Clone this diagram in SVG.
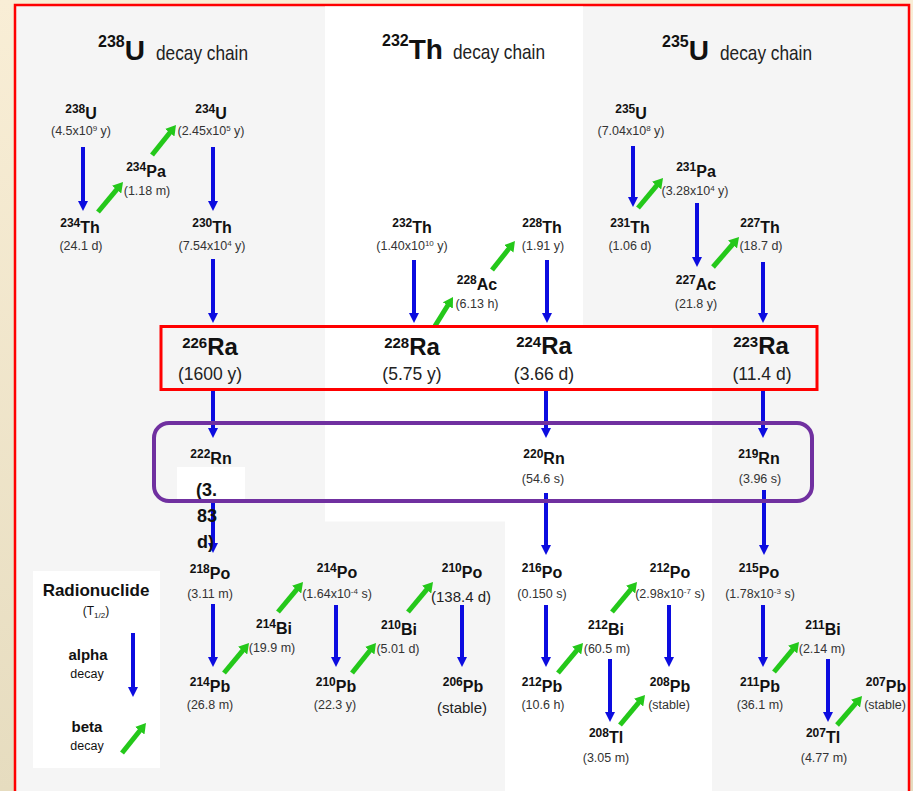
<svg xmlns="http://www.w3.org/2000/svg" width="913" height="791" viewBox="0 0 913 791">
  <defs>
    <linearGradient id="paper" x1="0" y1="0" x2="0" y2="1">
      <stop offset="0" stop-color="#f9eed6"/>
      <stop offset="1" stop-color="#e6dcbf"/>
    </linearGradient>
    <marker id="headAlpha" viewBox="0 0 10 10" markerUnits="userSpaceOnUse" markerWidth="10" markerHeight="10" refX="2" refY="5" orient="auto">
      <path d="M0,0 L10,5 L0,10 z" fill="#0c0ce0"/>
    </marker>
    <marker id="headBeta" viewBox="0 0 10 12" markerUnits="userSpaceOnUse" markerWidth="10" markerHeight="12" refX="2" refY="6" orient="auto">
      <path d="M0,0 L10,6 L0,12 z" fill="#24c81a"/>
    </marker>
  </defs>
  <style>
    text { font-family: "Liberation Sans", Arial, sans-serif; fill: #111; }
    .sym { font-size: 16px; font-weight: bold; text-anchor: middle; }
    .sup { font-size: 12px; }
    .hl { font-size: 12.5px; fill: #333; text-anchor: middle; }
    .ex { font-size: 8px; }
    .ra { font-size: 24px; font-weight: bold; text-anchor: middle; }
    .rasup { font-size: 15px; }
    .rahl { font-size: 17.5px; fill: #222; text-anchor: middle; }
    .big { font-size: 15px; fill: #222; text-anchor: middle; }
    .ttl { font-size: 28px; font-weight: bold; }
    .ttlsup { font-size: 16px; }
    .ttlrest { font-size: 21px; fill: #222; }
    .alpha { stroke: #0c0ce0; stroke-width: 4; fill: none; marker-end: url(#headAlpha); }
    .beta { stroke: #24c81a; stroke-width: 5; fill: none; marker-end: url(#headBeta); }
    .leg { text-anchor: middle; }
  </style>

  <!-- page and panels -->
  <rect x="0" y="0" width="913" height="791" fill="url(#paper)"/>
  <rect x="15" y="5" width="894" height="800" fill="#f5f5f5" stroke="#ff0000" stroke-width="2.5"/>
  <rect x="325" y="6.5" width="258" height="515" fill="#ffffff"/>
  <rect x="505" y="327" width="207" height="470" fill="#ffffff"/>
  <rect x="33" y="571" width="127" height="197" fill="#ffffff"/>

  <!-- chain titles -->
  <g id="title-u238">
    <text x="98" y="60"><tspan class="ttl ttlsup" dy="-13">238</tspan><tspan class="ttl" dy="13">U</tspan></text>
    <text class="ttlrest" x="156" y="60" textLength="92" lengthAdjust="spacingAndGlyphs">decay chain</text>
  </g>
  <g id="title-th232">
    <text x="382" y="59"><tspan class="ttl ttlsup" dy="-13">232</tspan><tspan class="ttl" dy="13">Th</tspan></text>
    <text class="ttlrest" x="453" y="59" textLength="92" lengthAdjust="spacingAndGlyphs">decay chain</text>
  </g>
  <g id="title-u235">
    <text x="662" y="60"><tspan class="ttl ttlsup" dy="-13">235</tspan><tspan class="ttl" dy="13">U</tspan></text>
    <text class="ttlrest" x="720" y="60" textLength="92" lengthAdjust="spacingAndGlyphs">decay chain</text>
  </g>

  <!-- decay arrows -->
  <g id="connectors">
    <!-- alpha decays -->
    <line class="alpha" x1="83" y1="147" x2="83" y2="203"/>
    <line class="alpha" x1="213" y1="147" x2="213" y2="203"/>
    <line class="alpha" x1="213" y1="259" x2="213" y2="315"/>
    <line class="alpha" x1="414" y1="260" x2="414" y2="315"/>
    <line class="alpha" x1="547" y1="260" x2="547" y2="315"/>
    <line class="alpha" x1="633" y1="146" x2="633" y2="199"/>
    <line class="alpha" x1="697" y1="203" x2="697" y2="259"/>
    <line class="alpha" x1="763" y1="262" x2="763" y2="315"/>
    <line class="alpha" x1="213" y1="390" x2="213" y2="430"/>
    <line class="alpha" x1="546" y1="388" x2="546" y2="430"/>
    <line class="alpha" x1="763" y1="388" x2="763" y2="430"/>
    <line class="alpha" x1="213" y1="470" x2="213" y2="545"/>
    <line class="alpha" x1="546" y1="493" x2="546" y2="547"/>
    <line class="alpha" x1="764" y1="490" x2="764" y2="547"/>
    <line class="alpha" x1="213" y1="604" x2="213" y2="659"/>
    <line class="alpha" x1="336" y1="605" x2="336" y2="659"/>
    <line class="alpha" x1="462" y1="605" x2="462" y2="659"/>
    <line class="alpha" x1="546" y1="605" x2="546" y2="659"/>
    <line class="alpha" x1="610" y1="659" x2="610" y2="714"/>
    <line class="alpha" x1="669" y1="605" x2="669" y2="659"/>
    <line class="alpha" x1="763" y1="605" x2="763" y2="659"/>
    <line class="alpha" x1="828" y1="659" x2="828" y2="714"/>
    <!-- beta decays -->
    <line class="beta" x1="98" y1="212" x2="117.9" y2="188.1"/>
    <line class="beta" x1="152" y1="155" x2="171" y2="131.2"/>
    <line class="beta" x1="435" y1="326" x2="448.8" y2="303.8"/>
    <line class="beta" x1="492" y1="270" x2="510" y2="247.3"/>
    <line class="beta" x1="638" y1="208" x2="657.9" y2="184.1"/>
    <line class="beta" x1="713" y1="267" x2="733.8" y2="243"/>
    <line class="beta" x1="224" y1="673" x2="243.9" y2="649.1"/>
    <line class="beta" x1="278" y1="612" x2="297.9" y2="588.1"/>
    <line class="beta" x1="352" y1="673" x2="371" y2="649.2"/>
    <line class="beta" x1="408" y1="612" x2="427.9" y2="588.1"/>
    <line class="beta" x1="558" y1="673" x2="577.9" y2="649.1"/>
    <line class="beta" x1="612" y1="612" x2="631.9" y2="588.1"/>
    <line class="beta" x1="620" y1="725" x2="639.9" y2="701.1"/>
    <line class="beta" x1="774" y1="672" x2="793.9" y2="648.1"/>
    <line class="beta" x1="837" y1="725" x2="856.8" y2="702.1"/>
  </g>

  <!-- uranium-238 chain, upper part -->
  <g id="u238">
    <text class="sym" x="81" y="119"><tspan class="sup" dy="-6">238</tspan><tspan dy="6">U</tspan></text>
    <text class="hl" x="81" y="135">(4.5x10<tspan class="ex" dy="-4">9</tspan><tspan dy="4"> y)</tspan></text>
  </g>
  <g id="u234">
    <text class="sym" x="211" y="119"><tspan class="sup" dy="-6">234</tspan><tspan dy="6">U</tspan></text>
    <text class="hl" x="211" y="135">(2.45x10<tspan class="ex" dy="-4">5</tspan><tspan dy="4"> y)</tspan></text>
  </g>
  <g id="pa234">
    <text class="sym" x="146" y="177"><tspan class="sup" dy="-6">234</tspan><tspan dy="6">Pa</tspan></text>
    <text class="hl" x="147" y="195">(1.18 m)</text>
  </g>
  <g id="th234">
    <text class="sym" x="80" y="233"><tspan class="sup" dy="-6">234</tspan><tspan dy="6">Th</tspan></text>
    <text class="hl" x="81" y="250">(24.1 d)</text>
  </g>
  <g id="th230">
    <text class="sym" x="212" y="233"><tspan class="sup" dy="-6">230</tspan><tspan dy="6">Th</tspan></text>
    <text class="hl" x="212" y="250">(7.54x10<tspan class="ex" dy="-4">4</tspan><tspan dy="4"> y)</tspan></text>
  </g>

  <!-- thorium-232 chain, upper part -->
  <g id="th232">
    <text class="sym" x="412" y="233"><tspan class="sup" dy="-6">232</tspan><tspan dy="6">Th</tspan></text>
    <text class="hl" x="412" y="250">(1.40x10<tspan class="ex" dy="-4">10</tspan><tspan dy="4"> y)</tspan></text>
  </g>
  <g id="th228">
    <text class="sym" x="542" y="233"><tspan class="sup" dy="-6">228</tspan><tspan dy="6">Th</tspan></text>
    <text class="hl" x="543" y="250">(1.91 y)</text>
  </g>
  <g id="ac228">
    <text class="sym" x="477" y="290"><tspan class="sup" dy="-6">228</tspan><tspan dy="6">Ac</tspan></text>
    <text class="hl" x="477" y="308">(6.13 h)</text>
  </g>

  <!-- uranium-235 chain, upper part -->
  <g id="u235">
    <text class="sym" x="631" y="119"><tspan class="sup" dy="-6">235</tspan><tspan dy="6">U</tspan></text>
    <text class="hl" x="631" y="135">(7.04x10<tspan class="ex" dy="-4">8</tspan><tspan dy="4"> y)</tspan></text>
  </g>
  <g id="pa231">
    <text class="sym" x="696" y="177"><tspan class="sup" dy="-6">231</tspan><tspan dy="6">Pa</tspan></text>
    <text class="hl" x="695" y="195">(3.28x10<tspan class="ex" dy="-4">4</tspan><tspan dy="4"> y)</tspan></text>
  </g>
  <g id="th231">
    <text class="sym" x="630" y="233"><tspan class="sup" dy="-6">231</tspan><tspan dy="6">Th</tspan></text>
    <text class="hl" x="630" y="250">(1.06 d)</text>
  </g>
  <g id="th227">
    <text class="sym" x="760" y="233"><tspan class="sup" dy="-6">227</tspan><tspan dy="6">Th</tspan></text>
    <text class="hl" x="761" y="250">(18.7 d)</text>
  </g>
  <g id="ac227">
    <text class="sym" x="696" y="290"><tspan class="sup" dy="-6">227</tspan><tspan dy="6">Ac</tspan></text>
    <text class="hl" x="696" y="308">(21.8 y)</text>
  </g>

  <!-- radium isotopes -->
  <g id="ra226">
    <text class="ra" x="210" y="355"><tspan class="rasup" dy="-7">226</tspan><tspan dy="7">Ra</tspan></text>
    <text class="rahl" x="210" y="380">(1600 y)</text>
  </g>
  <g id="ra228">
    <text class="ra" x="412" y="355"><tspan class="rasup" dy="-7">228</tspan><tspan dy="7">Ra</tspan></text>
    <text class="rahl" x="412" y="380">(5.75 y)</text>
  </g>
  <g id="ra224">
    <text class="ra" x="544" y="354"><tspan class="rasup" dy="-7">224</tspan><tspan dy="7">Ra</tspan></text>
    <text class="rahl" x="544" y="380">(3.66 d)</text>
  </g>
  <g id="ra223">
    <text class="ra" x="761" y="354"><tspan class="rasup" dy="-7">223</tspan><tspan dy="7">Ra</tspan></text>
    <text class="rahl" x="762" y="380">(11.4 d)</text>
  </g>

  <!-- radon isotopes -->
  <g id="rn222">
    <text class="sym" x="211" y="464"><tspan class="sup" dy="-6">222</tspan><tspan dy="6">Rn</tspan></text>
    <rect x="177" y="467" width="68" height="34" fill="#ffffff"/>
    <text x="196" y="496" font-size="18" font-weight="bold">(3.</text>
    <text x="197" y="522" font-size="18" font-weight="bold">83</text>
    <text x="197" y="548" font-size="18" font-weight="bold">d)</text>
  </g>
  <g id="rn220">
    <text class="sym" x="544" y="464"><tspan class="sup" dy="-6">220</tspan><tspan dy="6">Rn</tspan></text>
    <text class="hl" x="543" y="483">(54.6 s)</text>
  </g>
  <g id="rn219">
    <text class="sym" x="759" y="464"><tspan class="sup" dy="-6">219</tspan><tspan dy="6">Rn</tspan></text>
    <text class="hl" x="760" y="483">(3.96 s)</text>
  </g>

  <!-- uranium-238 chain, lower part -->
  <g id="po218">
    <text class="sym" x="210" y="579"><tspan class="sup" dy="-6">218</tspan><tspan dy="6">Po</tspan></text>
    <text class="hl" x="210" y="598">(3.11 m)</text>
  </g>
  <g id="pb214">
    <text class="sym" x="210" y="692"><tspan class="sup" dy="-6">214</tspan><tspan dy="6">Pb</tspan></text>
    <text class="hl" x="210" y="709">(26.8 m)</text>
  </g>
  <g id="bi214">
    <text class="sym" x="274" y="634"><tspan class="sup" dy="-6">214</tspan><tspan dy="6">Bi</tspan></text>
    <text class="hl" x="272" y="652">(19.9 m)</text>
  </g>
  <g id="po214">
    <text class="sym" x="337" y="578"><tspan class="sup" dy="-6">214</tspan><tspan dy="6">Po</tspan></text>
    <text class="hl" x="337" y="598">(1.64x10<tspan class="ex" dy="-4">-4</tspan><tspan dy="4"> s)</tspan></text>
  </g>
  <g id="pb210">
    <text class="sym" x="336" y="692"><tspan class="sup" dy="-6">210</tspan><tspan dy="6">Pb</tspan></text>
    <text class="hl" x="335" y="709">(22.3 y)</text>
  </g>
  <g id="bi210">
    <text class="sym" x="399" y="635"><tspan class="sup" dy="-6">210</tspan><tspan dy="6">Bi</tspan></text>
    <text class="hl" x="398" y="653">(5.01 d)</text>
  </g>
  <g id="po210">
    <text class="sym" x="462" y="578"><tspan class="sup" dy="-6">210</tspan><tspan dy="6">Po</tspan></text>
    <text class="big" x="461" y="602">(138.4 d)</text>
  </g>
  <g id="pb206">
    <text class="sym" x="463" y="692"><tspan class="sup" dy="-6">206</tspan><tspan dy="6">Pb</tspan></text>
    <text class="big" x="462" y="713">(stable)</text>
  </g>

  <!-- thorium-232 chain, lower part -->
  <g id="po216">
    <text class="sym" x="542" y="578"><tspan class="sup" dy="-6">216</tspan><tspan dy="6">Po</tspan></text>
    <text class="hl" x="542" y="598">(0.150 s)</text>
  </g>
  <g id="pb212">
    <text class="sym" x="542" y="692"><tspan class="sup" dy="-6">212</tspan><tspan dy="6">Pb</tspan></text>
    <text class="hl" x="543" y="709">(10.6 h)</text>
  </g>
  <g id="bi212">
    <text class="sym" x="606" y="635"><tspan class="sup" dy="-6">212</tspan><tspan dy="6">Bi</tspan></text>
    <text class="hl" x="607" y="653">(60.5 m)</text>
  </g>
  <g id="tl208">
    <text class="sym" x="606" y="743"><tspan class="sup" dy="-6">208</tspan><tspan dy="6">Tl</tspan></text>
    <text class="hl" x="606" y="762">(3.05 m)</text>
  </g>
  <g id="po212">
    <text class="sym" x="670" y="578"><tspan class="sup" dy="-6">212</tspan><tspan dy="6">Po</tspan></text>
    <text class="hl" x="670" y="598">(2.98x10<tspan class="ex" dy="-4">-7</tspan><tspan dy="4"> s)</tspan></text>
  </g>
  <g id="pb208">
    <text class="sym" x="670" y="692"><tspan class="sup" dy="-6">208</tspan><tspan dy="6">Pb</tspan></text>
    <text class="hl" x="669" y="709">(stable)</text>
  </g>

  <!-- uranium-235 chain, lower part -->
  <g id="po215">
    <text class="sym" x="759" y="578"><tspan class="sup" dy="-6">215</tspan><tspan dy="6">Po</tspan></text>
    <text class="hl" x="760" y="598">(1.78x10<tspan class="ex" dy="-4">-3</tspan><tspan dy="4"> s)</tspan></text>
  </g>
  <g id="pb211">
    <text class="sym" x="760" y="692"><tspan class="sup" dy="-6">211</tspan><tspan dy="6">Pb</tspan></text>
    <text class="hl" x="760" y="709">(36.1 m)</text>
  </g>
  <g id="bi211">
    <text class="sym" x="823" y="635"><tspan class="sup" dy="-6">211</tspan><tspan dy="6">Bi</tspan></text>
    <text class="hl" x="822" y="653">(2.14 m)</text>
  </g>
  <g id="tl207">
    <text class="sym" x="823" y="743"><tspan class="sup" dy="-6">207</tspan><tspan dy="6">Tl</tspan></text>
    <text class="hl" x="824" y="762">(4.77 m)</text>
  </g>
  <g id="pb207">
    <text class="sym" x="886" y="692"><tspan class="sup" dy="-6">207</tspan><tspan dy="6">Pb</tspan></text>
    <text class="hl" x="885" y="709">(stable)</text>
  </g>

  <!-- highlight frames: radium row and radon row -->
  <g id="radium-row">
    <rect x="161" y="326.5" width="656" height="63" fill="none" stroke="#ff0000" stroke-width="3"/>
  </g>
  <g id="radon-row">
    <rect x="154" y="423" width="658" height="78" rx="15" ry="15" fill="none" stroke="#7030a0" stroke-width="4"/>
  </g>

  <!-- legend -->
  <g id="legend">
    <text class="leg" x="96" y="596" font-size="17" font-weight="bold">Radionuclide</text>
    <text class="leg" x="96" y="615" font-size="12" fill="#333">(T<tspan font-size="8" dy="3">1/2</tspan><tspan dy="-3">)</tspan></text>
    <text class="leg" x="88" y="660" font-size="15" font-weight="bold">alpha</text>
    <text class="leg" x="87" y="678" font-size="12.5" fill="#333">decay</text>
    <text class="leg" x="87" y="732" font-size="15" font-weight="bold">beta</text>
    <text class="leg" x="87" y="750" font-size="12.5" fill="#333">decay</text>
    <line class="alpha" x1="133" y1="633" x2="133" y2="689"/>
    <line class="beta" x1="122" y1="753" x2="141" y2="729.2"/>
  </g>
</svg>
